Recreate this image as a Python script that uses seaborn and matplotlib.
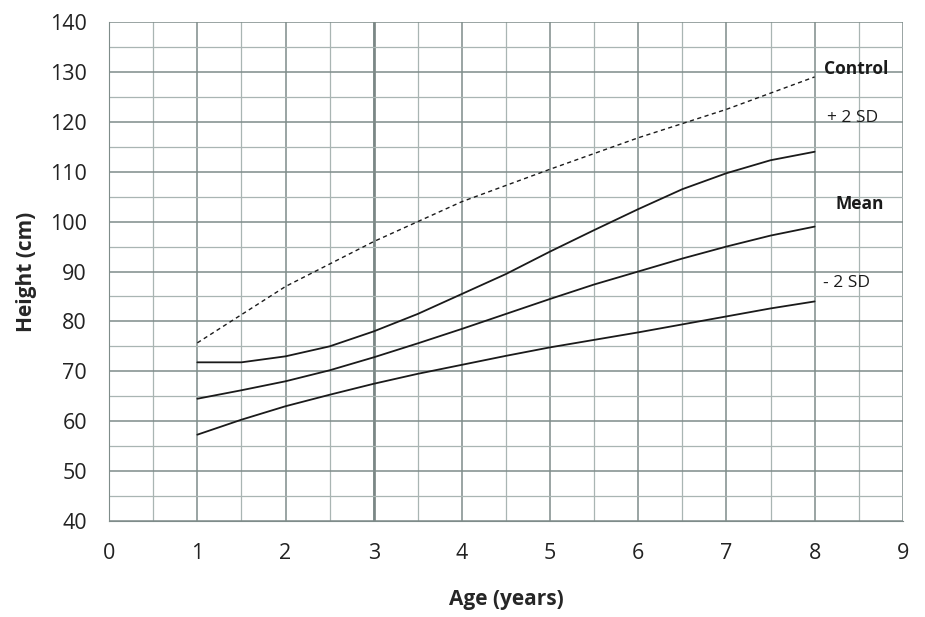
import matplotlib.pyplot as plt
import pandas as pd
import seaborn as sns
from matplotlib.ticker import MultipleLocator

# values
age_ctrl = [1, 2, 3, 4, 5, 6, 7, 8]
control = [75.7, 87, 96, 104, 110.5, 116.8, 122.5, 129]

age = [1, 1.5, 2, 2.5, 3, 3.5, 4, 4.5, 5, 5.5, 6, 6.5, 7, 7.5, 8]
plus2sd = [71.8, 71.8, 73, 75, 78, 81.5, 85.5, 89.5, 94, 98.3, 102.5, 106.5, 109.7, 112.3, 114]
mean = [64.5, 66.2, 68, 70.2, 72.8, 75.6, 78.5, 81.5, 84.5, 87.4, 90, 92.6, 95, 97.2, 99]
minus2sd = [57.3, 60.3, 63, 65.3, 67.5, 69.5, 71.3, 73.1, 74.8, 76.3, 77.8, 79.4, 81, 82.6, 84]

df = pd.DataFrame({'age': age, '+2SD': plus2sd, 'Mean': mean, '-2SD': minus2sd})
df_ctrl = pd.DataFrame({'age': age_ctrl, 'Control': control})

sns.set_style('white')
plt.rcParams['font.family'] = ['Open Sans', 'DejaVu Sans']

fig = plt.figure(figsize=(9.25, 6.17), dpi=100)
ax = fig.add_axes([0.118, 0.1556, 0.858, 0.8087])

# grid
ax.set_xlim(0, 9)
ax.set_ylim(40, 140)
ax.xaxis.set_major_locator(MultipleLocator(1))
ax.xaxis.set_minor_locator(MultipleLocator(0.5))
ax.yaxis.set_major_locator(MultipleLocator(10))
ax.yaxis.set_minor_locator(MultipleLocator(5))
ax.grid(which='major', color='#7f8c8a', linewidth=1.1)
ax.grid(which='minor', color='#a9b5b3', linewidth=0.9)
ax.set_axisbelow(True)
ax.axvline(3, color='#6b7775', linewidth=1.8, zorder=0.5)
for s in ax.spines.values():
    s.set_visible(False)
ax.spines['left'].set_visible(True)
ax.spines['bottom'].set_visible(True)
ax.spines['left'].set_color('#7f8c8a')
ax.spines['bottom'].set_color('#7f8c8a')

for col in ['+2SD', 'Mean', '-2SD']:
    sns.lineplot(data=df, x='age', y=col, ax=ax, color='#1a1a1a', linewidth=1.3)
sns.lineplot(data=df_ctrl, x='age', y='Control', ax=ax, color='#1a1a1a',
             linewidth=1.0, linestyle=(0, (3, 2.5)))

ax.tick_params(which='major', direction='out', length=6, color='#7f8c8a',
               labelsize=15.5, labelcolor='#222222')
ax.tick_params(axis='x', which='major', pad=10)
ax.tick_params(axis='y', which='major', pad=10)
ax.tick_params(which='minor', length=0)

ax.set_xlabel('Age (years)', fontsize=15, fontweight='bold', labelpad=18)
ax.set_ylabel('Height (cm)', fontsize=15, fontweight='bold', labelpad=9)

lab = dict(fontsize=12.5, color='#1a1a1a', va='center', ha='left')
ax.text(8.11, 130.6, 'Control', fontweight='bold', **lab)
ax.text(8.14, 120.7, '+ 2 SD', **lab)
ax.text(8.24, 103.5, 'Mean', fontweight='bold', **lab)
ax.text(8.1, 87.6, '- 2 SD', **lab)

plt.savefig('out.png', dpi=100)
